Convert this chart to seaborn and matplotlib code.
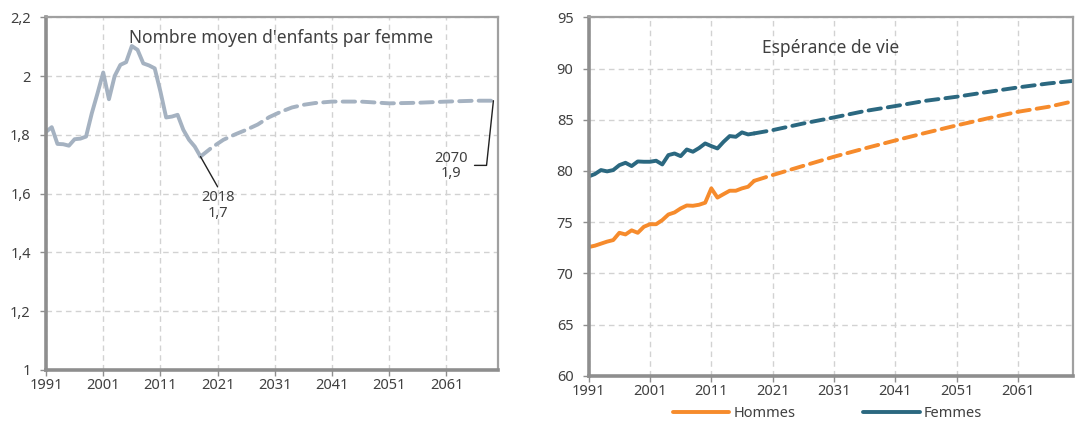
import numpy as np
import pandas as pd
import matplotlib
matplotlib.use("Agg")
import matplotlib.pyplot as plt
import seaborn as sns

# --- fertility (left panel) ---
tfr_years = list(range(1991, 2019))
tfr_values = [1.81, 1.826, 1.769, 1.768, 1.763, 1.785, 1.787, 1.794, 1.873, 1.941,
              2.012, 1.921, 2.0, 2.038, 2.047, 2.102, 2.089, 2.043, 2.036, 2.026,
              1.947, 1.859, 1.862, 1.868, 1.817, 1.783, 1.76, 1.726]
tfr_proj_years = [2018, 2020, 2022, 2024, 2026, 2028, 2030, 2032, 2034, 2036,
                  2038, 2041, 2046, 2051, 2056, 2061, 2066, 2070]
tfr_proj_values = [1.726, 1.757, 1.783, 1.801, 1.817, 1.835, 1.86, 1.878, 1.893, 1.902,
                   1.908, 1.913, 1.913, 1.907, 1.909, 1.913, 1.916, 1.916]

# --- life expectancy (right panel) ---
le_years = list(range(1991, 2019))
hommes = [72.57, 72.7, 72.9, 73.1, 73.25, 73.96, 73.8, 74.2, 73.96, 74.55,
          74.8, 74.8, 75.2, 75.75, 75.95, 76.34, 76.63, 76.6, 76.7, 76.9,
          78.3, 77.4, 77.74, 78.07, 78.07, 78.3, 78.46, 79.04]
femmes = [79.47, 79.7, 80.09, 79.96, 80.09, 80.57, 80.8, 80.48, 80.93, 80.9,
          80.9, 81.0, 80.64, 81.55, 81.71, 81.45, 82.1, 81.88, 82.24, 82.69,
          82.43, 82.2, 82.85, 83.41, 83.34, 83.77, 83.57, 83.67]
le_proj_years = [2018, 2021, 2026, 2031, 2036, 2041, 2046, 2051, 2056, 2061, 2066, 2070]
hommes_proj = [79.04, 79.6, 80.5, 81.39, 82.2, 82.98, 83.73, 84.45, 85.13, 85.78, 86.27, 86.8]
femmes_proj = [83.67, 83.99, 84.64, 85.23, 85.85, 86.34, 86.86, 87.25, 87.71, 88.16, 88.55, 88.8]

x_ticks = list(range(1991, 2062, 10))
tfr_ticks = [1, 1.2, 1.4, 1.6, 1.8, 2, 2.2]
tfr_tick_labels = ["1", "1,2", "1,4", "1,6", "1,8", "2", "2,2"]
le_ticks = [60, 65, 70, 75, 80, 85, 90, 95]

GREY_LINE = "#A5B2C1"
ORANGE = "#F68B2C"
TEAL = "#2B6880"
TEXT = "#404040"

sns.set_style("white")
plt.rcParams["font.family"] = ["Noto Sans", "DejaVu Sans"]

fig = plt.figure(figsize=(10.8, 4.23), dpi=100)
ax1 = fig.add_axes([0.0426, 0.1253, 0.4185, 0.834])
ax2 = fig.add_axes([0.5451, 0.1118, 0.4484, 0.847])


def style_axes(ax):
    ax.set_xlim(1991, 2070)
    ax.set_xticks(x_ticks)
    ax.grid(True, color="#D2D2D2", linestyle=(0, (4, 3)), linewidth=1)
    ax.set_axisbelow(True)
    for side in ["left", "bottom"]:
        ax.spines[side].set_color("#8E8E8E")
        ax.spines[side].set_linewidth(2.6)
    for side in ["top", "right"]:
        ax.spines[side].set_color("#A0A0A0")
        ax.spines[side].set_linewidth(1.6)
    ax.tick_params(axis="both", which="both", direction="out", length=4, width=1,
                   color="#8E8E8E", labelsize=10.5, labelcolor=TEXT, pad=2,
                   bottom=True, left=True)
    ax.tick_params(axis="y", pad=7)
    ax.set_xlabel("")
    ax.set_ylabel("")


solid = dict(linewidth=2.8, solid_capstyle="round", solid_joinstyle="round")
dashed = dict(linewidth=2.8, dashes=(3.2, 1.8), dash_capstyle="round")

# left panel
sns.lineplot(x=tfr_years, y=tfr_values, ax=ax1, color=GREY_LINE, **solid)
sns.lineplot(x=tfr_proj_years, y=tfr_proj_values, ax=ax1, color=GREY_LINE, **dashed)
style_axes(ax1)
ax1.set_ylim(1, 2.2)
ax1.set_yticks(tfr_ticks)
ax1.set_yticklabels(tfr_tick_labels)
ax1.text(2032, 2.13, "Nombre moyen d'enfants par femme", ha="center", va="center",
         fontsize=12.5, color=TEXT)
ax1.plot([2018, 2021], [1.726, 1.623], color="#222222", linewidth=1)
ax1.text(2021, 1.612, "2018\n1,7", ha="center", va="top", fontsize=10.5,
         color=TEXT, linespacing=1.05)
ax1.plot([2069.2, 2068.0, 2065.9], [1.916, 1.696, 1.696], color="#222222", linewidth=1)
ax1.text(2061.8, 1.694, "2070\n1,9", ha="center", va="center", fontsize=10.5,
         color=TEXT, linespacing=1.05)

# right panel
sns.lineplot(x=le_years, y=hommes, ax=ax2, color=ORANGE, label="Hommes", **solid)
sns.lineplot(x=le_proj_years, y=hommes_proj, ax=ax2, color=ORANGE, **dashed)
sns.lineplot(x=le_years, y=femmes, ax=ax2, color=TEAL, label="Femmes", **solid)
sns.lineplot(x=le_proj_years, y=femmes_proj, ax=ax2, color=TEAL, **dashed)
style_axes(ax2)
ax2.set_ylim(60, 95)
ax2.set_yticks(le_ticks)
ax2.text(2030.5, 92.0, "Espérance de vie", ha="center", va="center",
         fontsize=12.5, color=TEXT)

handles, labels = ax2.get_legend_handles_labels()
ax2.legend(handles, labels, loc="center", bbox_to_anchor=(0.493, -0.105), ncol=2,
           frameon=False, fontsize=10.5, handlelength=3.9, handletextpad=0.3,
           columnspacing=4.6, labelcolor=TEXT, borderpad=0.1)

fig.savefig("out.png", dpi=100)
